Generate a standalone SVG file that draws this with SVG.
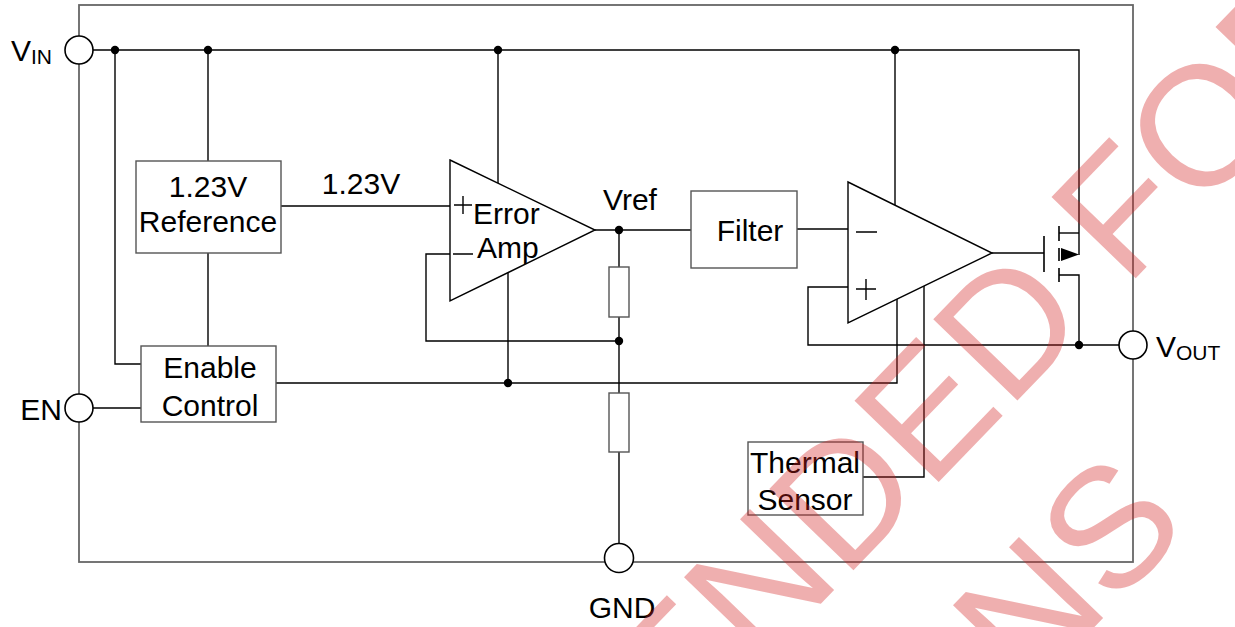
<svg xmlns="http://www.w3.org/2000/svg" width="1235" height="627" viewBox="0 0 1235 627">
<style>
.w{fill:none;stroke:#000;stroke-width:1.4}
.o{fill:none;stroke:#666;stroke-width:1.8}
.b{fill:#fff;stroke:#555;stroke-width:1.4}
.p{fill:#fff;stroke:#000;stroke-width:1.4}
.c{fill:#fff;stroke:#000;stroke-width:1.6}
.d{fill:#000}
.t{font-family:"Liberation Sans",Arial,sans-serif;font-size:30px;fill:#000}
.m{text-anchor:middle}
.s{font-size:21px}
.wm{font-family:"Liberation Sans",Arial,sans-serif;font-size:170px;fill:rgb(210,33,33);fill-opacity:.36;text-anchor:middle}
</style>
<rect width="1235" height="627" fill="#fff"/>
<rect id="frame" x="79" y="5" width="1054" height="557" class="o"/>
<g id="connectors">
<path class="w" d="M93,50H1079V255"/>
<path class="w" d="M1059,233H1079"/>
<path class="w" d="M1059,275H1079V345"/>
<path class="w" d="M848,287H808V345H1119"/>
<path class="w" d="M115,50V364H141"/>
<path class="w" d="M208,50V161M208,253V346"/>
<path class="w" d="M281,206H450"/>
<path class="w" d="M450,254H426V341H619"/>
<path class="w" d="M498,50V183"/>
<path class="w" d="M508,273V383"/>
<path class="w" d="M276,383H897V299"/>
<path class="w" d="M93,408H141"/>
<path class="w" d="M595,230H691"/>
<path class="w" d="M619,230V267M619,317V393M619,452V544"/>
<path class="w" d="M797,229H848"/>
<path class="w" d="M895,50V205"/>
<path class="w" d="M992,253H1044"/>
<path class="w" d="M924,286V477H863"/>
<circle class="d" cx="115" cy="50" r="4.2"/>
<circle class="d" cx="208" cy="50" r="4.2"/>
<circle class="d" cx="498" cy="50" r="4.2"/>
<circle class="d" cx="895" cy="50" r="4.2"/>
<circle class="d" cx="619" cy="230" r="4.2"/>
<circle class="d" cx="619" cy="341" r="4.2"/>
<circle class="d" cx="508" cy="383" r="4.2"/>
<circle class="d" cx="1079" cy="345" r="4.2"/>
</g>
<g id="vin"><circle class="c" cx="79" cy="50" r="14"/><text class="t" x="11" y="61">V<tspan class="s" dy="3">IN</tspan></text></g>
<g id="en"><circle class="c" cx="79" cy="408" r="14"/><text class="t" x="62" y="420" text-anchor="end">EN</text></g>
<g id="vout"><circle class="c" cx="1133" cy="345" r="14"/><text class="t" x="1156" y="357">V<tspan class="s" dy="3">OUT</tspan></text></g>
<g id="gnd"><circle class="c" cx="619" cy="558" r="14.5"/><text class="t m" x="622" y="618">GND</text></g>
<g id="reference"><rect class="b" x="136" y="161" width="145" height="92"/><text class="t m" x="208" y="197">1.23V</text><text class="t m" x="208" y="232">Reference</text></g>
<g id="label123"><text class="t m" x="361" y="194">1.23V</text></g>
<g id="enable"><rect class="b" x="141" y="346" width="135" height="76"/><text class="t m" x="210" y="378">Enable</text><text class="t m" x="210" y="416">Control</text></g>
<g id="erroramp"><polygon class="p" points="450,160 595,230 450,301"/><path class="w" d="M454,205H472M463,196V214M453,254H473"/><text class="t" x="473" y="224">Error</text><text class="t" x="477" y="258">Amp</text></g>
<g id="vref"><text class="t" x="603" y="210">Vref</text></g>
<g id="r1"><rect class="b" x="609" y="267" width="20" height="50"/></g>
<g id="r2"><rect class="b" x="609" y="393" width="20" height="59"/></g>
<g id="filter"><rect class="b" x="691" y="191" width="106" height="77"/><text class="t m" x="750" y="241">Filter</text></g>
<g id="comparator"><polygon class="p" points="848,182 992,253 848,323"/><path class="w" d="M856,232H877M856,289H876M866,279V300"/></g>
<g id="mosfet"><path class="w" style="stroke-width:1.6" d="M1044,236V272M1059,226V241M1059,248V261M1059,268V282"/><polygon class="d" points="1061,248 1061,261 1079,254.5"/></g>
<g id="thermal"><rect class="b" x="748" y="442" width="115" height="73"/><text class="t m" x="805" y="473">Thermal</text><text class="t m" x="805" y="510">Sensor</text></g>
<g id="watermark" transform="translate(1127,287) rotate(-46)"><text class="wm" x="-732" y="0">NOT RECOMMENDED FOR</text><text class="wm" x="-732" y="213">NEW DESIGNS</text></g>
</svg>
